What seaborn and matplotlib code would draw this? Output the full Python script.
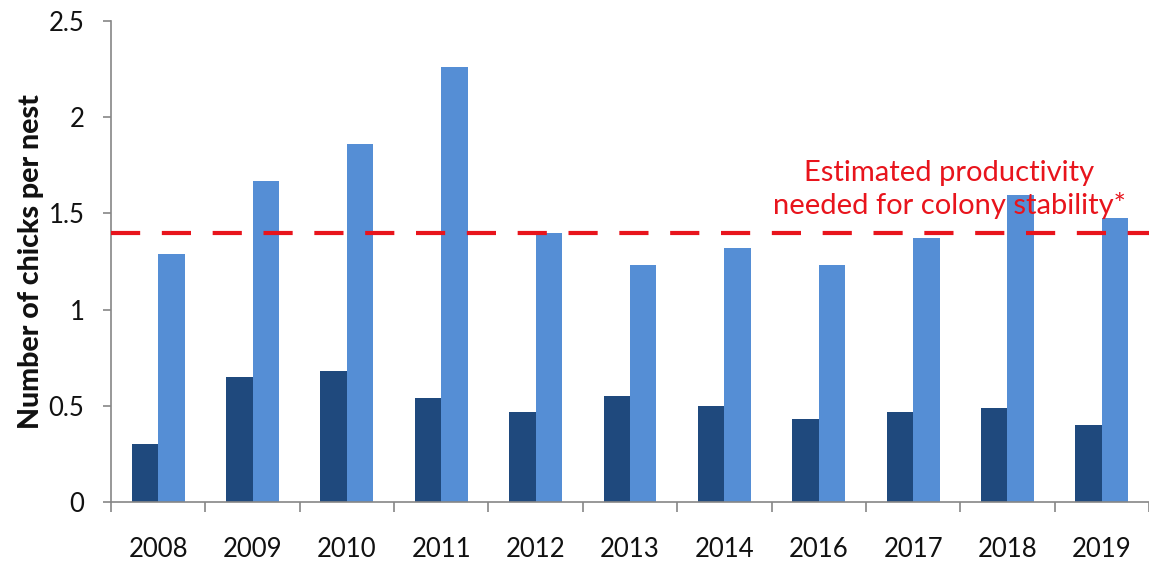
import matplotlib
matplotlib.use("Agg")
import matplotlib.pyplot as plt
import seaborn as sns
import pandas as pd
import numpy as np

years = ["2008", "2009", "2010", "2011", "2012", "2013", "2014", "2016", "2017", "2018", "2019"]
series_dark = [0.30, 0.65, 0.68, 0.54, 0.47, 0.55, 0.50, 0.43, 0.47, 0.49, 0.40]
series_light = [1.29, 1.67, 1.86, 2.26, 1.40, 1.23, 1.32, 1.23, 1.37, 1.595, 1.475]
series_names = ["A", "B"]
threshold = 1.4
annotation = "Estimated productivity\nneeded for colony stability*"
ylabel = "Number of chicks per nest"
yticks = [0, 0.5, 1, 1.5, 2, 2.5]
ytick_labels = ["0", "0.5", "1", "1.5", "2", "2.5"]

df = pd.DataFrame({
    "year": years * 2,
    "value": series_dark + series_light,
    "series": [series_names[0]] * len(years) + [series_names[1]] * len(years),
})

sns.set_style("white")
plt.rcParams["font.family"] = ["Lato", "DejaVu Sans"]

fig = plt.figure(figsize=(11.49, 5.62), dpi=100)
ax = fig.add_axes([0.0966, 0.1068, 0.9034, 0.8558])

sns.barplot(data=df, x="year", y="value", hue="series", order=years,
            hue_order=series_names, palette=["#1f497d", "#558ed5"],
            width=0.56, linewidth=0, ax=ax, legend=False, errorbar=None,
            saturation=1)

ax.axhline(threshold, color="#e8141c", lw=3, dashes=(7, 5.2), zorder=5)

ax.set_xlim(-0.5, len(years) - 0.5)
ax.set_ylim(0, 2.5)
ax.set_yticks(yticks)
ax.set_yticklabels(ytick_labels)
ax.set_xlabel("")
ax.set_ylabel(ylabel, fontsize=20.5, fontweight="black", color="#111111", labelpad=3)

for s in ["top", "right"]:
    ax.spines[s].set_visible(False)
for s in ["left", "bottom"]:
    ax.spines[s].set_color("#868686")
    ax.spines[s].set_linewidth(1.2)

ax.tick_params(axis="y", direction="out", length=6, width=1.2, color="#868686",
               labelsize=18.5, labelcolor="#111111", pad=13, left=True)
ax.tick_params(axis="x", which="major", length=0, labelsize=18.5,
               labelcolor="#111111", pad=25)
ax.set_xticks(np.arange(-0.5, len(years), 1.0), minor=True)
ax.tick_params(axis="x", which="minor", direction="out", length=7, width=1.2,
               color="#868686", bottom=True)

ax.text(8.38, 1.625, annotation, color="#e8141c", fontsize=21, ha="center",
        va="center", linespacing=1.3, zorder=6)

fig.savefig("out.png", dpi=100)
